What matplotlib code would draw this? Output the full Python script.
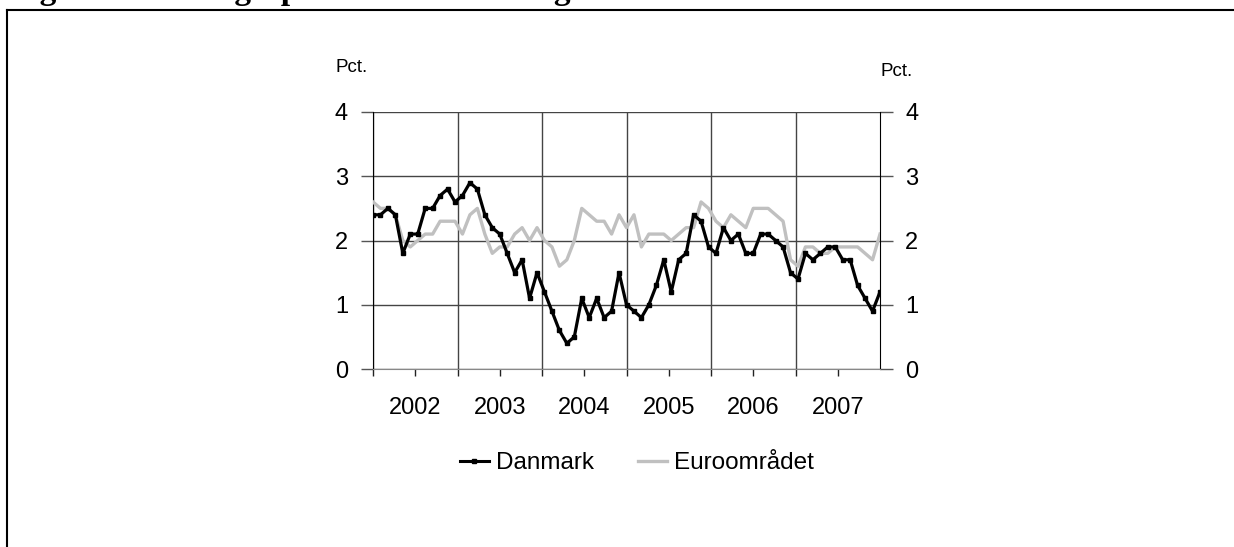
import numpy as np
import matplotlib.pyplot as plt
from matplotlib.lines import Line2D

plt.rcParams['font.family'] = ['Liberation Sans', 'DejaVu Sans']

# monthly inflation, jan 2002 - sep 2007 (pct.)
danmark = [2.4, 2.4, 2.5, 2.4, 1.8, 2.1, 2.1, 2.5, 2.5, 2.7, 2.8, 2.6,
           2.7, 2.9, 2.8, 2.4, 2.2, 2.1, 1.8, 1.5, 1.7, 1.1, 1.5, 1.2,
           0.9, 0.6, 0.4, 0.5, 1.1, 0.8, 1.1, 0.8, 0.9, 1.5, 1.0, 0.9,
           0.8, 1.0, 1.3, 1.7, 1.2, 1.7, 1.8, 2.4, 2.3, 1.9, 1.8, 2.2,
           2.0, 2.1, 1.8, 1.8, 2.1, 2.1, 2.0, 1.9, 1.5, 1.4, 1.8, 1.7,
           1.8, 1.9, 1.9, 1.7, 1.7, 1.3, 1.1, 0.9, 1.2]
euro = [2.6, 2.5, 2.5, 2.4, 2.0, 1.9, 2.0, 2.1, 2.1, 2.3, 2.3, 2.3,
        2.1, 2.4, 2.5, 2.1, 1.8, 1.9, 1.9, 2.1, 2.2, 2.0, 2.2, 2.0,
        1.9, 1.6, 1.7, 2.0, 2.5, 2.4, 2.3, 2.3, 2.1, 2.4, 2.2, 2.4,
        1.9, 2.1, 2.1, 2.1, 2.0, 2.1, 2.2, 2.2, 2.6, 2.5, 2.3, 2.2,
        2.4, 2.3, 2.2, 2.5, 2.5, 2.5, 2.4, 2.3, 1.7, 1.6, 1.9, 1.9,
        1.8, 1.8, 1.9, 1.9, 1.9, 1.9, 1.8, 1.7, 2.1]
aar = ['2002', '2003', '2004', '2005', '2006', '2007']
yticks = [0, 1, 2, 3, 4]

W, H = 1234, 547
fig = plt.figure(figsize=(W / 100, H / 100), dpi=100)

ax = fig.add_axes([373 / W, 1 - 369 / H, 507 / W, 257 / H])
axd = ax.twiny()

# year axis: 6 years of months
ax.set_xlim(0, 12 * len(aar))
ax.set_ylim(0, 4)
ax.set_xticks(np.arange(6, 12 * len(aar), 12))
ax.set_xticklabels(aar)
ax.set_xticks(np.arange(0, 12 * len(aar), 12), minor=True)
ax.xaxis.set_ticks_position('bottom')
ax.tick_params(axis='x', which='both', direction='out', length=5, width=1,
               color='#222222', labelsize=17, pad=15)
ax.set_yticks(yticks)
ax.tick_params(axis='y', direction='out', length=9, width=1, color='#555555',
               labelsize=17, pad=9, left=True, right=True,
               labelleft=True, labelright=True)
ax.grid(axis='y', which='major', color='#444444', lw=1)
ax.grid(axis='x', which='minor', color='#444444', lw=1)
ax.spines['top'].set_visible(False)
ax.spines['bottom'].set_color('#888888')
ax.spines['left'].set_color('black')
ax.spines['right'].set_color('black')

mnd = np.arange(len(danmark))
axd.set_xlim(0, len(danmark) - 1)
axd.xaxis.set_visible(False)
for s in axd.spines.values():
    s.set_visible(False)
axd.plot(mnd, euro, color='#c0c0c0', lw=2.4, label='Euroområdet')
axd.plot(mnd, danmark, color='black', lw=2.3, marker='s', ms=3.5,
         label='Danmark')

fig.text(351.5 / W, 1 - 67 / H, 'Pct.', ha='center', va='center', fontsize=13.5)
fig.text(896.5 / W, 1 - 72 / H, 'Pct.', ha='center', va='center', fontsize=13.5)

handles = [Line2D([], [], color='black', lw=2.2, marker='s', ms=2.5),
           Line2D([], [], color='#c0c0c0', lw=2.4)]
fig.legend(handles, ['Danmark', 'Euroområdet'], loc='center',
           bbox_to_anchor=(637 / W, 1 - 463 / H), ncol=2, frameon=False,
           fontsize=17.5, handlelength=1.2, handletextpad=0.3, columnspacing=1.8)

# frame around figure and heading cut off at the top edge
fig.add_artist(Line2D([7 / W, 1], [1 - 10 / H, 1 - 10 / H], color='black', lw=1.5))
fig.add_artist(Line2D([7 / W, 7 / W], [0, 1 - 10 / H], color='black', lw=1.5))
fig.text(10 / W, 1 + 0.5 / H, 'Figur 3. Forbrugerpriser i Danmark og i euroområdet',
         family='Liberation Serif', fontweight='bold', fontsize=24, va='baseline')

fig.savefig('out.png', dpi=100)
